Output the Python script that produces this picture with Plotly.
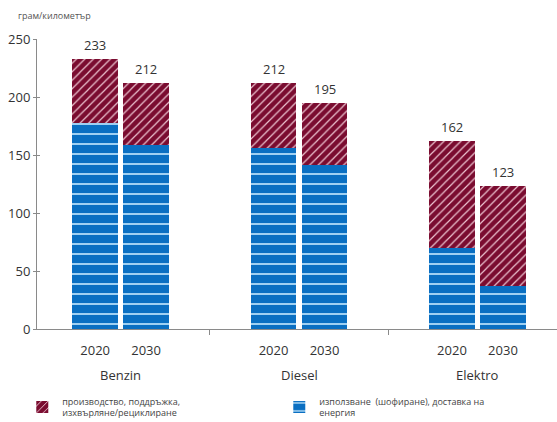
import plotly.graph_objects as go

# Lifecycle CO2 emissions, gram per kilometre
groups = ["Benzin", "Diesel", "Elektro"]
years = ["2020", "2030"]
use_energy = [178, 159, 156, 141, 70, 37]          # use (driving), energy supply
production = [55, 53, 56, 54, 92, 86]             # production, maintenance, disposal/recycling
totals = [233, 212, 212, 195, 162, 123]

group_step = 3.5
xpos = [g * group_step + j for g in range(len(groups)) for j in range(len(years))]
year_labels = [y for _ in groups for y in years]
group_centres = [g * group_step + (len(years) - 1) / 2 for g in range(len(groups))]
dividers = [(g + 1) * group_step - (group_step - (len(years) - 1)) / 2 for g in range(len(groups) - 1)]

blue = "#0a6fc2"
blue_line = "#9fd0f2"
maroon = "#7a0c30"
maroon_line = "#ecc3d0"
font_family = "Open Sans, Noto Sans, sans-serif"
text_col = "#333333"
axis_col = "#8a8a8a"

fig = go.Figure()
fig.add_trace(go.Bar(
    x=xpos, y=use_energy, width=0.9,
    name="използване  (шофиране), доставка на<br>енергия",
    marker=dict(color=blue, line=dict(width=0),
                pattern=dict(shape="-", bgcolor=blue, fgcolor=blue_line,
                             size=10, solidity=0.2, fillmode="replace")),
    hoverinfo="skip",
))
fig.add_trace(go.Bar(
    x=xpos, y=production, width=0.9,
    name="производство, поддръжка,<br>изхвърляне/рециклиране",
    marker=dict(color=maroon, line=dict(width=0),
                pattern=dict(shape="/", bgcolor=maroon, fgcolor=maroon_line,
                             size=6, solidity=0.2, fillmode="replace")),
    hoverinfo="skip",
))

# totals above each stack
for x, t in zip(xpos, totals):
    fig.add_annotation(x=x, y=t, text=str(t), showarrow=False, yanchor="bottom",
                       yshift=3, font=dict(size=13, color=text_col, family=font_family))

# group names under the year labels
for xc, g in zip(group_centres, groups):
    fig.add_annotation(x=xc, y=0, yref="y", text=g, showarrow=False, yanchor="top",
                       yshift=-35, font=dict(size=13, color=text_col, family=font_family))

fig.add_annotation(xref="paper", yref="paper", x=-0.04, y=1.0, yshift=15,
                   xanchor="left", yanchor="bottom", text="грам/километър",
                   showarrow=False, font=dict(size=9, color="#555555", family=font_family))

xrange = [-1.14, 9.06]
fig.update_layout(
    width=557, height=422,
    margin=dict(l=37, r=0, t=39, b=93, autoexpand=False),
    paper_bgcolor="white", plot_bgcolor="white",
    barmode="stack",
    showlegend=True,
    legend=dict(orientation="h", traceorder="reversed",
                xref="container", yref="container",
                x=0.04, xanchor="left", y=0.035, yanchor="middle",
                entrywidth=212, entrywidthmode="pixels",
                font=dict(size=9, color="#444444", family=font_family),
                itemsizing="constant"),
    font=dict(family=font_family, color=text_col),
    xaxis=dict(range=xrange, tickmode="array", tickvals=xpos, ticktext=year_labels,
               showline=True, linecolor=axis_col, linewidth=1, ticks="",
               ticklabelstandoff=9,
               showgrid=False, zeroline=False, automargin=False,
               tickfont=dict(size=13, color=text_col)),
    xaxis2=dict(range=xrange, overlaying="x", anchor="y", side="bottom",
                tickmode="array", tickvals=dividers, ticktext=["", ""],
                ticks="outside", ticklen=5, tickcolor=axis_col, showline=False,
                showgrid=False, zeroline=False, automargin=False),
    yaxis=dict(range=[0, 250], tickmode="array", tickvals=[0, 50, 100, 150, 200, 250],
               showline=True, linecolor=axis_col, linewidth=1,
               ticks="outside", ticklen=3, tickcolor=axis_col,
               showgrid=False, zeroline=False, automargin=False,
               tickfont=dict(size=13, color=text_col)),
    yaxis2=dict(range=[0, 250], overlaying="y", anchor="x", side="left",
                tickmode="array", tickvals=[0, 50, 100, 150, 200, 250],
                ticktext=[""] * 6, ticks="inside", ticklen=3, tickcolor=axis_col,
                showline=False, showgrid=False, zeroline=False, automargin=False),
)
# invisible helper trace so the overlay axes are drawn
fig.add_trace(go.Scatter(x=[None], y=[None], xaxis="x2", yaxis="y2",
                         showlegend=False, hoverinfo="skip"))

fig.write_html("out.html")
